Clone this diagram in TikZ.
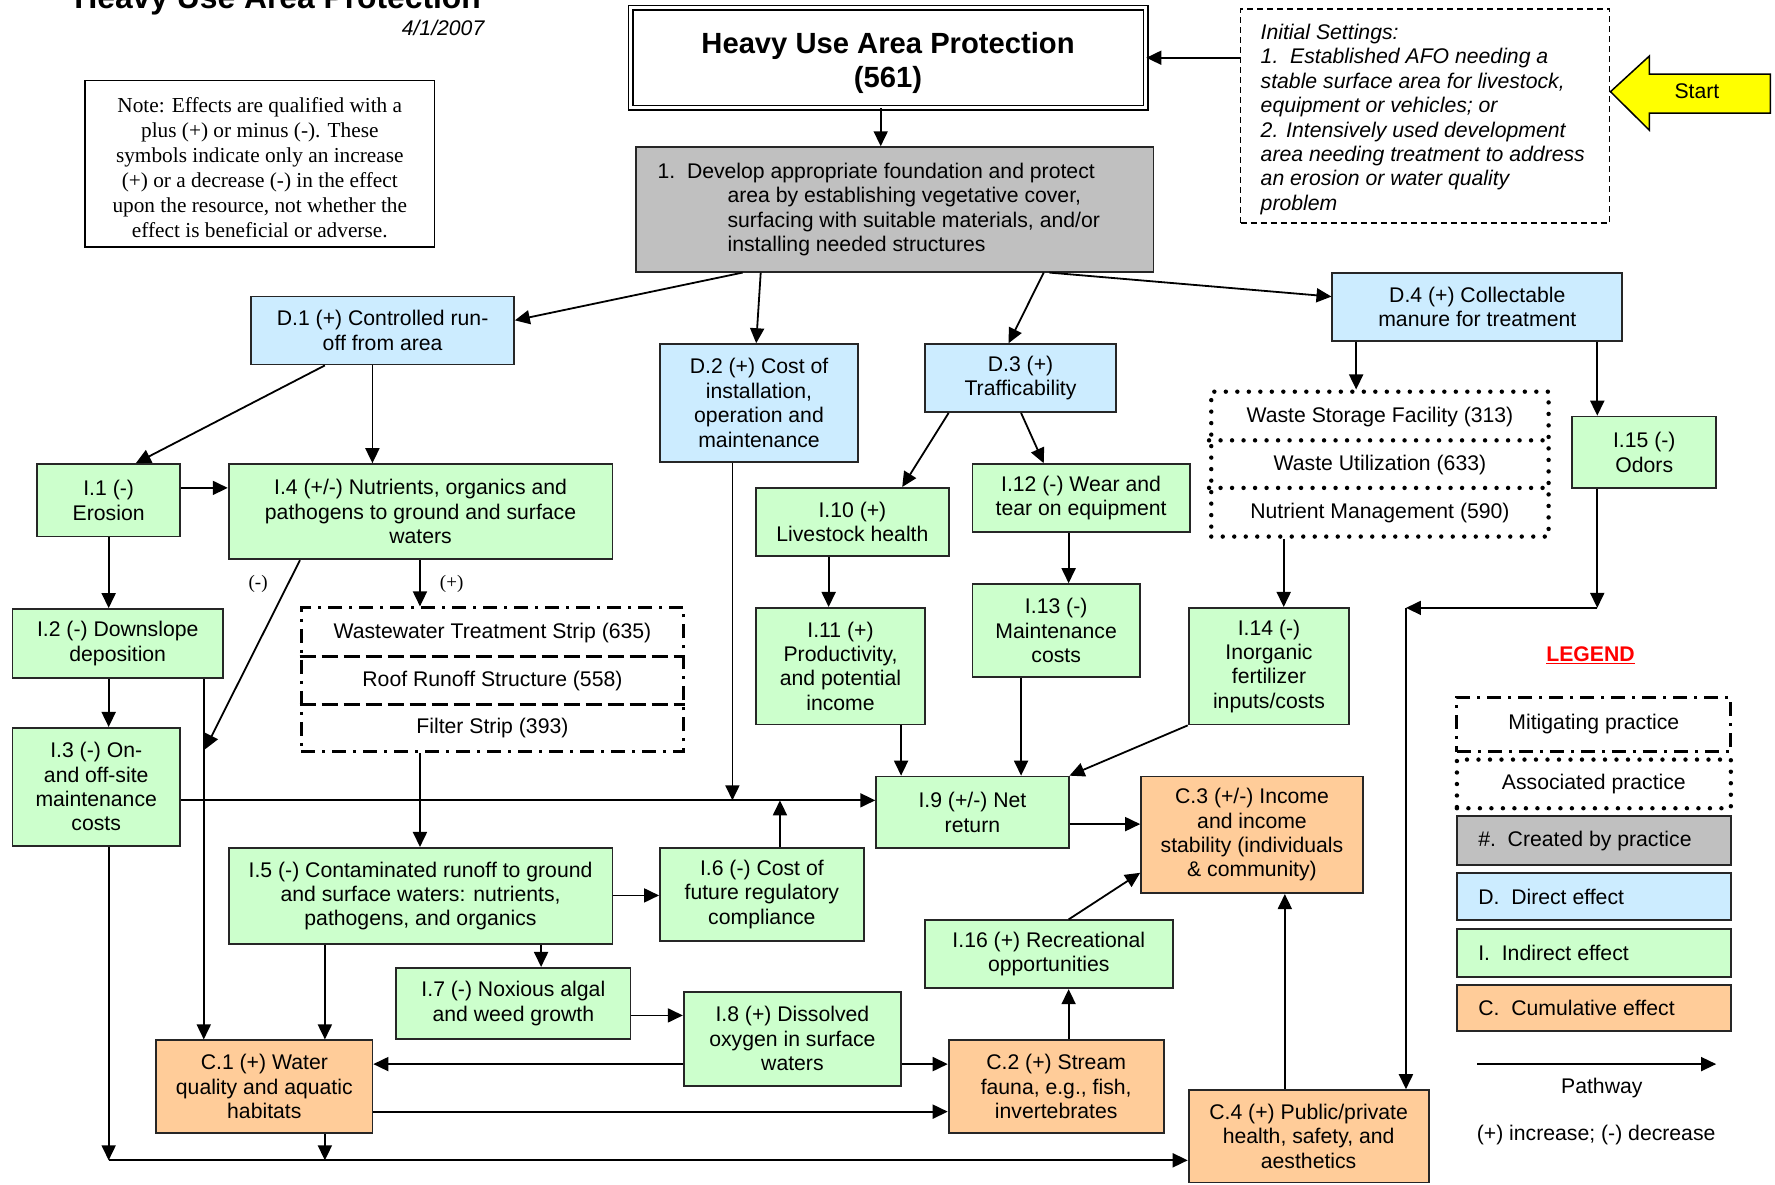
\documentclass[tikz,border=0pt]{standalone}
\usepackage{fontspec}
\setmainfont{Liberation Sans}
\newfontfamily\notefont{Liberation Serif}
\usetikzlibrary{arrows.meta}

\definecolor{dirblue}{RGB}{204,236,255}
\definecolor{indgreen}{RGB}{204,255,204}
\definecolor{cumorange}{RGB}{255,204,153}
\definecolor{crgray}{RGB}{192,192,192}
\definecolor{startyel}{RGB}{255,255,0}

\newcommand\bodyfont{\fontsize{21.2pt}{24.4pt}\selectfont}
\newcommand\headfont{\fontsize{29.2pt}{34pt}\selectfont\bfseries}

% box from its corners (x1,y1)-(x2,y2): style, x1, y1, x2, y2, name, text
\newcommand\effbox[7]{\node[#1, minimum width={(#4-#2)*1.132pt}, minimum height={(#5-#3)*1.132pt}] (#6) at ({(#2+#4)/2},{(#3+#5)/2}) {#7};}

\tikzset{
  box/.style={draw=black!85, line width=1.8pt, inner sep=1pt, align=center, font=\bodyfont},
  dbox/.style={box, fill=dirblue},
  ibox/.style={box, fill=indgreen},
  cbox/.style={box, fill=cumorange},
  pbox/.style={box, fill=crgray},
  arr/.style={line width=1.8pt, -{Triangle[length=15pt,width=14pt]}},
  mitline/.style={line width=3pt, dash pattern=on 14pt off 7pt on 3pt off 7pt},
  mitdiv/.style={line width=3pt, dash pattern=on 16pt off 6pt},
  assline/.style={line width=4.4pt, line cap=round, dash pattern=on 0pt off 11.5pt},
  lbl/.style={font=\bodyfont, inner sep=0pt},
}

\begin{document}
\begin{tikzpicture}[x=1.132pt, y=-1.132pt]
\useasboundingbox (0,0) rectangle (1568,1046);
\clip (0,0) rectangle (1568,1046);
\fill[white] (0,0) rectangle (1568,1046);

% heading
\node[font=\fontsize{31.8pt}{36pt}\selectfont\bfseries, anchor=base east, inner sep=0pt] (title) at (425,7.5) {Heavy Use Area Protection};
\node[font=\bodyfont\itshape, anchor=base east, inner sep=0pt] (date) at (428,31.5) {4/1/2007};

% note
\effbox{box, draw=black, line width=1.5pt}{75}{71}{384}{218}{note}{}
\node[font=\notefont\fontsize{21.3pt}{25pt}\selectfont, align=center, inner sep=0pt] (noteT) at (229.5,148) {Note: Effects are qualified with a\\plus (+) or minus (-). These\\symbols indicate only an increase\\(+) or a decrease (-) in the effect\\upon the resource, not whether the\\effect is beneficial or adverse.};

% practice
\effbox{box, draw=black, double, double distance=3pt, line width=1.5pt}{557}{7}{1012}{95}{main}{}
\node[font=\headfont, align=center, inner sep=0pt] (mainT) at (784.5,56) {Heavy Use Area Protection\\(561)};

% initial settings
\effbox{box, draw=black, line width=1.5pt, dash pattern=on 6pt off 4pt}{1096}{8}{1422}{197}{init}{}
\node[font=\bodyfont\itshape, align=left, anchor=west, inner sep=0pt] (initT) at (1113.5,105.5) {Initial Settings:\\1.\ \ Established AFO needing a\\stable surface area for livestock,\\equipment or vehicles; or\\2. Intensively used development\\area needing treatment to address\\an erosion or water quality\\problem};

% start arrow
\draw[fill=startyel, draw=black, line width=1.5pt] (init.east |- 0,81) -- (1457,49.5) -- (1457,65.4) -- (1564,65.4) -- (1564,100) -- (1457,100) -- (1457,115) -- cycle;
\node[lbl] (start) at (1499,81) {Start};

% created by practice
\effbox{pbox}{562}{130}{1019}{240}{gray}{}
\node[font=\bodyfont, align=left, anchor=west, inner sep=0pt] (grayT) at (gray.west -| 580.7,0) {1.\ \ Develop appropriate foundation and protect\\\hspace*{70pt}area by establishing vegetative cover,\\\hspace*{70pt}surfacing with suitable materials, and/or\\\hspace*{70pt}installing needed structures};

% direct effects
\effbox{dbox}{222}{262}{454}{322}{D1}{D.1 (+) Controlled run-\\off from area}
\effbox{dbox}{583}{304}{758}{408}{D2}{D.2 (+) Cost of\\installation,\\operation and\\maintenance}
\effbox{dbox}{817}{304}{986}{364}{D3}{D.3 (+)\\Trafficability}
\effbox{dbox}{1177}{241}{1433}{301}{D4}{D.4 (+) Collectable\\manure for treatment}

% associated practices
\effbox{box, assline, draw=black}{1070}{346}{1368}{474}{as}{}
\draw[assline] (as.west |- 0,389) -- (as.east |- 0,389);
\draw[assline] (as.west |- 0,431) -- (as.east |- 0,431);
\node[lbl] (asA) at (1219,368.5) {Waste Storage Facility (313)};
\node[lbl] (asB) at (1219,411) {Waste Utilization (633)};
\node[lbl] (asC) at (1219,453.5) {Nutrient Management (590)};

% mitigating practices
\effbox{box, mitline, draw=black}{266}{537}{604}{664}{mit}{}
\draw[mitdiv] (mit.west |- 0,580) -- (mit.east |- 0,580);
\draw[mitdiv] (mit.west |- 0,622) -- (mit.east |- 0,622);
\node[lbl] (mitA) at (435,559) {Wastewater Treatment Strip (635)};
\node[lbl] (mitB) at (435,601.5) {Roof Runoff Structure (558)};
\node[lbl] (mitC) at (435,643.5) {Filter Strip (393)};

% indirect effects
\effbox{ibox}{1389}{368}{1516}{431}{I15}{I.15 (-)\\Odors}
\effbox{ibox}{33}{410}{159}{474}{I1}{I.1 (-)\\Erosion}
\effbox{ibox}{202}{410}{541}{494}{I4}{I.4 (+/-) Nutrients, organics and\\pathogens to ground and surface\\waters}
\effbox{ibox}{668}{431}{838}{491}{I10}{I.10 (+)\\Livestock health}
\effbox{ibox}{859}{410}{1051}{470}{I12}{I.12 (-) Wear and\\tear on equipment}
\effbox{ibox}{11}{538}{197}{599}{I2}{I.2 (-) Downslope\\deposition}
\effbox{ibox}{668}{537}{817}{640}{I11}{I.11 (+)\\Productivity,\\and potential\\income}
\effbox{ibox}{859}{516}{1007}{598}{I13}{I.13 (-)\\Maintenance\\costs}
\effbox{ibox}{1050}{537}{1192}{640}{I14}{I.14 (-)\\Inorganic\\fertilizer\\inputs/costs}
\effbox{ibox}{11}{643}{159}{747}{I3}{I.3 (-) On-\\and off-site\\maintenance\\costs}
\effbox{ibox}{774}{686}{944}{749}{I9}{I.9 (+/-) Net\\return}
\effbox{ibox}{202}{749}{541}{834}{I5}{I.5 (-) Contaminated runoff to ground\\and surface waters: nutrients,\\pathogens, and organics}
\effbox{ibox}{583}{749}{763}{831}{I6}{I.6 (-) Cost of\\future regulatory\\compliance}
\effbox{ibox}{817}{813}{1036}{873}{I16}{I.16 (+) Recreational\\opportunities}
\effbox{ibox}{350}{855}{557}{918}{I7}{I.7 (-) Noxious algal\\and weed growth}
\effbox{ibox}{604}{876}{796}{959}{I8}{I.8 (+) Dissolved\\oxygen in surface\\waters}

% cumulative effects
\effbox{cbox}{1008}{686}{1204}{789}{C3}{C.3 (+/-) Income\\and income\\stability (individuals\\\& community)}
\effbox{cbox}{138}{919}{329}{1001}{C1}{C.1 (+) Water\\quality and aquatic\\habitats}
\effbox{cbox}{838}{919}{1028}{1001}{C2}{C.2 (+) Stream\\fauna, e.g., fish,\\invertebrates}
\effbox{cbox}{1050}{963}{1262}{1044.5}{C4}{C.4 (+) Public/private\\health, safety, and\\aesthetics}

% signs on the two branches out of I.4
\node[font=\notefont\fontsize{19pt}{22pt}\selectfont, inner sep=0pt] (lm) at (228,516) {(-)};
\node[font=\notefont\fontsize{19pt}{22pt}\selectfont, inner sep=0pt] (lp) at (399,516) {(+)};

% pathways
\draw[arr] (init.west |- main.east) -- (main.east);
\draw[arr] (main.south -| 778,0) -- (gray.north -| 778,0);
\draw[arr] (gray.south -| 656,0) -- (D1.east |- 0,283);
\draw[arr] (gray.south -| 672,0) -- (D2.north -| 668,0);
\draw[arr] (gray.south -| 922,0) -- (D3.north -| 891,0);
\draw[arr] (gray.south -| 927,0) -- (D4.west |- 0,262);
\draw[arr] (D1.south -| 287,0) -- (I1.north -| 120,0);
\draw[arr] (D1.south -| 329,0) -- (I4.north -| 329,0);
\draw[arr] (I1.east |- 0,431) -- (I4.west |- 0,431);
\draw[arr] (I1.south -| 96,0) -- (I2.north -| 96,0);
\draw[arr] (I4.south -| 371,0) -- (mit.north -| 371,0);
\coordinate (dg) at (181,662);
\draw[arr] (I4.south -| 265,0) -- (dg);
\draw[arr] (I2.south -| 180,0) -- (C1.north -| 180,0);
\draw[arr] (I2.south -| 96,0) -- (I3.north -| 96,0);
\coordinate (dj) at (647,707);
\coordinate (ij) at (689,707);
\draw[arr] (I3.east |- dj) -- (I9.west |- dj);
\draw[arr] (D2.south -| dj) -- (dj);
\draw[arr] (I6.north -| ij) -- (ij);
\draw[arr] (mit.south -| 371,0) -- (I5.north -| 371,0);
\draw[arr] (I5.east |- 0,791) -- (I6.west |- 0,791);
\draw[arr] (I5.south -| 287,0) -- (C1.north -| 287,0);
\draw[arr] (I5.south -| 478,0) -- (I7.north -| 478,0);
\draw[arr] (I7.east |- 0,897) -- (I8.west |- 0,897);
\draw[arr] (I8.west |- 0,940) -- (C1.east |- 0,940);
\draw[arr] (I8.east |- 0,940) -- (C2.west |- 0,940);
\draw[arr] (C1.east |- 0,982) -- (C2.west |- 0,982);
\coordinate (bl) at (96,1025);
\coordinate (bc) at (287,1025);
\draw[arr] (I3.south -| bl) -- (bl);
\draw[arr] (C1.south -| bc) -- (bc);
\draw[arr] (bl) -- (C4.west |- bl);
\draw[arr] (C2.north -| 944,0) -- (I16.south -| 944,0);
\draw[arr] (I16.north -| 944,0) -- (C3.west |- 0,771);
\draw[arr] (C4.north -| 1135,0) -- (C3.south -| 1135,0);
\draw[arr] (I9.east |- 0,728) -- (C3.west |- 0,728);
\draw[arr] (D3.south -| 838,0) -- (I10.north -| 797,0);
\draw[arr] (D3.south -| 902,0) -- (I12.north -| 922,0);
\draw[arr] (I10.south -| 732,0) -- (I11.north -| 732,0);
\draw[arr] (I11.south -| 796,0) -- (I9.north -| 796,0);
\draw[arr] (I12.south -| 944,0) -- (I13.north -| 944,0);
\draw[arr] (I13.south -| 902,0) -- (I9.north -| 902,0);
\draw[arr] (I14.south west) -- (I9.north east);
\draw[arr] (D4.south -| 1198,0) -- (as.north -| 1198,0);
\draw[arr] (D4.south -| 1411,0) -- (I15.north -| 1411,0);
\draw[arr] (as.south -| 1134,0) -- (I14.north -| 1134,0);
\coordinate (oc) at (1411,537);
\coordinate (od) at (1242,537);
\draw[arr] (I15.south -| oc) -- (oc);
\draw[arr] (oc) -- (od);
\draw[arr] (od) -- (C4.north -| od);

% legend
\node[font=\bodyfont\bfseries, text=red, inner sep=0pt] (legend) at (1405,579) {\underline{LEGEND}};
\effbox{box, mitline, draw=black}{1287}{616}{1529}{664}{lmit}{Mitigating practice}
\effbox{box, assline, draw=black}{1287}{671}{1529}{714}{lass}{Associated practice}
\effbox{pbox}{1287}{721}{1529}{764}{lcre}{}
\effbox{dbox}{1287}{771}{1529}{813}{ldir}{}
\effbox{ibox}{1287}{821}{1529}{863}{lind}{}
\effbox{cbox}{1287}{870}{1529}{911}{lcum}{}
\node[lbl, anchor=west] (lcreT) at (lcre.west -| 1305.7,0) {\#.\ \ Created by practice};
\node[lbl, anchor=west] (ldirT) at (ldir.west -| 1305.7,0) {D.\ \ Direct effect};
\node[lbl, anchor=west] (lindT) at (lind.west -| 1305.7,0) {I.\ \ Indirect effect};
\node[lbl, anchor=west] (lcumT) at (lcum.west -| 1305.7,0) {C.\ \ Cumulative effect};
\coordinate (pa) at (1305,940);
\coordinate (pb) at (1516,940);
\draw[arr, line width=1.5pt] (pa) -- (pb);
\node[lbl] (pw) at (1415,961) {Pathway};
\node[lbl] (pm) at (1410,1003) {(+) increase; (-) decrease};
\end{tikzpicture}
\end{document}
